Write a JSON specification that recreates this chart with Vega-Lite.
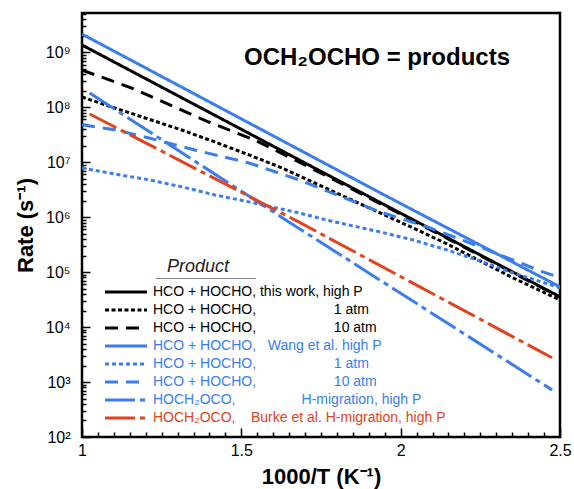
{
  "$schema": "https://vega.github.io/schema/vega-lite/v6.json",
  "width": 478,
  "height": 424,
  "autosize": "none",
  "padding": {"left": 82, "top": 13, "right": 14, "bottom": 52},
  "background": "white",
  "config": {
    "view": {"stroke": "black", "strokeWidth": 2.5},
    "font": "Liberation Sans"
  },
  "title": {
    "text": "OCH₂OCHO = products",
    "orient": "top",
    "anchor": "end",
    "frame": "group",
    "offset": 0,
    "dx": -50,
    "dy": 76,
    "baseline": "alphabetic",
    "font": "Liberation Sans",
    "fontSize": 24,
    "fontWeight": "bold",
    "color": "black"
  },
  "data": {
    "values": [
      {"s": "a", "x": 1.0, "y": 1.36e9},
      {"s": "a", "x": 1.75, "y": 6.8e6},
      {"s": "a", "x": 2.5, "y": 3.56e4},
      {"s": "b", "x": 1.0, "y": 1.54e8},
      {"s": "b", "x": 1.103, "y": 9.7e7},
      {"s": "b", "x": 1.209, "y": 6.1e7},
      {"s": "b", "x": 1.313, "y": 3.86e7},
      {"s": "b", "x": 1.417, "y": 2.34e7},
      {"s": "b", "x": 1.524, "y": 1.36e7},
      {"s": "b", "x": 1.627, "y": 7.9e6},
      {"s": "b", "x": 1.778, "y": 3.13e6},
      {"s": "b", "x": 1.935, "y": 1.2e6},
      {"s": "b", "x": 2.038, "y": 6.4e5},
      {"s": "b", "x": 2.145, "y": 3.27e5},
      {"s": "b", "x": 2.249, "y": 1.6e5},
      {"s": "b", "x": 2.352, "y": 7.9e4},
      {"s": "b", "x": 2.5, "y": 3.13e4},
      {"s": "c", "x": 1.0, "y": 4.76e8},
      {"s": "c", "x": 1.156, "y": 2.24e8},
      {"s": "c", "x": 1.398, "y": 5.4e7},
      {"s": "c", "x": 1.542, "y": 2.54e7},
      {"s": "c", "x": 1.668, "y": 1.1e7},
      {"s": "c", "x": 1.841, "y": 3.4e6},
      {"s": "c", "x": 2.155, "y": 3.86e5},
      {"s": "c", "x": 2.5, "y": 3.5e4},
      {"s": "d", "x": 1.0, "y": 2.15e9},
      {"s": "d", "x": 1.936, "y": 2.77e6},
      {"s": "d", "x": 2.5, "y": 5.4e4},
      {"s": "e", "x": 1.0, "y": 7.9e6},
      {"s": "e", "x": 1.103, "y": 6.1e6},
      {"s": "e", "x": 1.21, "y": 4.8e6},
      {"s": "e", "x": 1.314, "y": 3.56e6},
      {"s": "e", "x": 1.417, "y": 2.54e6},
      {"s": "e", "x": 1.524, "y": 1.9e6},
      {"s": "e", "x": 1.68, "y": 1.2e6},
      {"s": "e", "x": 1.778, "y": 8.6e5},
      {"s": "e", "x": 1.935, "y": 5.4e5},
      {"s": "e", "x": 2.038, "y": 3.86e5},
      {"s": "e", "x": 2.145, "y": 2.54e5},
      {"s": "e", "x": 2.249, "y": 1.6e5},
      {"s": "e", "x": 2.352, "y": 9.7e4},
      {"s": "e", "x": 2.5, "y": 5.2e4},
      {"s": "f", "x": 1.0, "y": 4.8e7},
      {"s": "f", "x": 1.103, "y": 3.9e7},
      {"s": "f", "x": 1.21, "y": 2.77e7},
      {"s": "f", "x": 1.354, "y": 1.67e7},
      {"s": "f", "x": 1.524, "y": 9.7e6},
      {"s": "f", "x": 1.68, "y": 4.8e6},
      {"s": "f", "x": 1.935, "y": 1.25e6},
      {"s": "f", "x": 2.082, "y": 6.7e5},
      {"s": "f", "x": 2.208, "y": 3.56e5},
      {"s": "f", "x": 2.311, "y": 2.07e5},
      {"s": "f", "x": 2.446, "y": 1.01e5},
      {"s": "f", "x": 2.5, "y": 8e4},
      {"s": "g", "x": 1.024, "y": 1.82e8},
      {"s": "g", "x": 1.649, "y": 8.2e5},
      {"s": "g", "x": 2.475, "y": 720},
      {"s": "h", "x": 1.024, "y": 7.55e7},
      {"s": "h", "x": 1.68, "y": 8.2e5},
      {"s": "h", "x": 2.475, "y": 2770}
    ]
  },
  "resolve": {"axis": {"x": "independent", "y": "independent"}},
  "layer": [
    {
      "mark": {"type": "line", "opacity": 0},
      "encoding": {
        "x": {
          "field": "x", "type": "quantitative",
          "scale": {"domain": [1, 2.5], "nice": false, "zero": false},
          "axis": {
            "orient": "bottom",
            "values": [1.05, 1.1, 1.15, 1.2, 1.25, 1.3, 1.35, 1.4, 1.45, 1.55, 1.6, 1.65, 1.7, 1.75, 1.8, 1.85, 1.9, 1.95, 2.05, 2.1, 2.15, 2.2, 2.25, 2.3, 2.35, 2.4, 2.45],
            "labels": false, "domain": false, "grid": false, "title": null,
            "tickSize": -5, "tickWidth": 1.5, "tickColor": "black"
          }
        },
        "y": {
          "field": "y", "type": "quantitative",
          "scale": {"type": "log", "domain": [100, 5.2e9], "nice": false},
          "axis": {
            "orient": "left",
            "values": [200, 300, 400, 500, 600, 700, 800, 900, 2000, 3000, 4000, 5000, 6000, 7000, 8000, 9000, 20000, 30000, 40000, 50000, 60000, 70000, 80000, 90000, 200000, 300000, 400000, 500000, 600000, 700000, 800000, 900000, 2000000, 3000000, 4000000, 5000000, 6000000, 7000000, 8000000, 9000000, 20000000, 30000000, 40000000, 50000000, 60000000, 70000000, 80000000, 90000000, 200000000, 300000000, 400000000, 500000000, 600000000, 700000000, 800000000, 900000000, 2000000000, 3000000000, 4000000000, 5000000000],
            "labels": false, "domain": false, "grid": false, "title": null,
            "tickSize": -4, "tickWidth": 1.5, "tickColor": "black"
          }
        },
        "detail": {"field": "s"}
      }
    },
    {
      "mark": {"type": "line", "strokeWidth": 3, "clip": true},
      "encoding": {
        "x": {
          "field": "x", "type": "quantitative",
          "axis": {
            "orient": "bottom",
            "values": [1, 1.5, 2, 2.5],
            "labelExpr": "datum.value == 1 ? '1' : datum.value == 2 ? '2' : format(datum.value, '.1f')",
            "labelFontSize": 16, "labelFont": "Liberation Sans", "labelColor": "black",
            "labelPadding": 14, "labelFlush": false,
            "domain": false, "grid": false,
            "tickSize": -9, "tickWidth": 1.5, "tickColor": "black",
            "title": "1000/T (K⁻¹)",
            "titleFontSize": 22, "titleFont": "Liberation Sans", "titleFontWeight": "bold", "titleColor": "black",
            "titlePadding": 8
          }
        },
        "y": {
          "field": "y", "type": "quantitative",
          "axis": {
            "orient": "left",
            "values": [100, 1000, 10000, 100000, 1000000, 10000000, 100000000, 1000000000],
            "labelExpr": "'10' + ['⁰','¹','²','³','⁴','⁵','⁶','⁷','⁸','⁹'][round(log(datum.value)/LN10)]",
            "labelFontSize": 16, "labelFont": "Liberation Sans", "labelColor": "black",
            "labelPadding": 20, "labelFlush": false,
            "domain": false, "grid": false,
            "tickSize": -8, "tickWidth": 1.5, "tickColor": "black",
            "title": "Rate (s⁻¹)",
            "titleFontSize": 22, "titleFont": "Liberation Sans", "titleFontWeight": "bold", "titleColor": "black",
            "titlePadding": 8
          }
        },
        "color": {
          "field": "s", "type": "nominal",
          "scale": {"domain": ["a", "b", "c", "d", "e", "f", "g", "h"], "range": ["#000000", "#000000", "#000000", "#3a7df0", "#3a7df0", "#3a7df0", "#3a7df0", "#e2431c"]},
          "legend": {
            "orient": "none", "legendX": 37, "legendY": 245,
            "title": ["\u200b\u00a0\u00a0Product", "__________"],
            "titleFont": "Liberation Sans", "titleFontSize": 18, "titleFontStyle": "italic", "titleFontWeight": "normal", "titleColor": "#222222",
            "titleLineHeight": 5, "titlePadding": 4,
            "labelFont": "Liberation Sans", "labelFontSize": 14, "labelLimit": 500, "labelOffset": 20,
            "labelExpr": "{'a': 'HCO + HOCHO, this work, high P', 'b': 'HCO + HOCHO,\u00a0\u00a0\u00a0\u00a0\u00a0\u00a0\u00a0\u00a0\u00a0\u00a0\u00a0\u00a0\u00a0\u00a0\u00a0\u00a0\u00a0\u00a0\u00a0\u00a01 atm', 'c': 'HCO + HOCHO,\u00a0\u00a0\u00a0\u00a0\u00a0\u00a0\u00a0\u00a0\u00a0\u00a0\u00a0\u00a0\u00a0\u00a0\u00a0\u00a0\u00a0\u00a0\u00a0\u00a010 atm', 'd': 'HCO + HOCHO,\u00a0\u00a0\u00a0Wang et al. high P', 'e': 'HCO + HOCHO,\u00a0\u00a0\u00a0\u00a0\u00a0\u00a0\u00a0\u00a0\u00a0\u00a0\u00a0\u00a0\u00a0\u00a0\u00a0\u00a0\u00a0\u00a0\u00a0\u00a01 atm', 'f': 'HCO + HOCHO,\u00a0\u00a0\u00a0\u00a0\u00a0\u00a0\u00a0\u00a0\u00a0\u00a0\u00a0\u00a0\u00a0\u00a0\u00a0\u00a0\u00a0\u00a0\u00a0\u00a010 atm', 'g': 'HOCH₂OCO,\u00a0\u00a0\u00a0\u00a0\u00a0\u00a0\u00a0\u00a0\u00a0\u00a0\u00a0\u00a0\u00a0\u00a0\u00a0\u00a0\u00a0H-migration, high P', 'h': 'HOCH₂OCO,\u00a0\u00a0\u00a0\u00a0Burke et al. H-migration, high P'}[datum.value]",
            "symbolType": "M-4.2,0H4.2", "symbolSize": 100, "symbolStrokeWidth": 3,
            "rowPadding": 4, "padding": 0, "offset": 0,
            "encode": {
              "labels": {"update": {"fill": {"scale": "color", "field": "value"}}},
              "title": {"update": {"dx": {"value": 38}}}
            }
          }
        },
        "strokeDash": {
          "field": "s", "type": "nominal",
          "scale": {"domain": ["a", "b", "c", "d", "e", "f", "g", "h"], "range": [[1, 0], [4, 2.5], [13, 8], [1, 0], [4, 3], [13, 8], [30, 5, 5, 5], [30, 5, 5, 5]]},
          "legend": {
            "orient": "none", "legendX": 37, "legendY": 245,
            "title": ["\u200b\u00a0\u00a0Product", "__________"],
            "titleFont": "Liberation Sans", "titleFontSize": 18, "titleFontStyle": "italic", "titleFontWeight": "normal", "titleColor": "#222222",
            "titleLineHeight": 5, "titlePadding": 4,
            "labelFont": "Liberation Sans", "labelFontSize": 14, "labelLimit": 500, "labelOffset": 20,
            "labelExpr": "{'a': 'HCO + HOCHO, this work, high P', 'b': 'HCO + HOCHO,\u00a0\u00a0\u00a0\u00a0\u00a0\u00a0\u00a0\u00a0\u00a0\u00a0\u00a0\u00a0\u00a0\u00a0\u00a0\u00a0\u00a0\u00a0\u00a0\u00a01 atm', 'c': 'HCO + HOCHO,\u00a0\u00a0\u00a0\u00a0\u00a0\u00a0\u00a0\u00a0\u00a0\u00a0\u00a0\u00a0\u00a0\u00a0\u00a0\u00a0\u00a0\u00a0\u00a0\u00a010 atm', 'd': 'HCO + HOCHO,\u00a0\u00a0\u00a0Wang et al. high P', 'e': 'HCO + HOCHO,\u00a0\u00a0\u00a0\u00a0\u00a0\u00a0\u00a0\u00a0\u00a0\u00a0\u00a0\u00a0\u00a0\u00a0\u00a0\u00a0\u00a0\u00a0\u00a0\u00a01 atm', 'f': 'HCO + HOCHO,\u00a0\u00a0\u00a0\u00a0\u00a0\u00a0\u00a0\u00a0\u00a0\u00a0\u00a0\u00a0\u00a0\u00a0\u00a0\u00a0\u00a0\u00a0\u00a0\u00a010 atm', 'g': 'HOCH₂OCO,\u00a0\u00a0\u00a0\u00a0\u00a0\u00a0\u00a0\u00a0\u00a0\u00a0\u00a0\u00a0\u00a0\u00a0\u00a0\u00a0\u00a0H-migration, high P', 'h': 'HOCH₂OCO,\u00a0\u00a0\u00a0\u00a0Burke et al. H-migration, high P'}[datum.value]",
            "symbolType": "M-4.2,0H4.2", "symbolSize": 100, "symbolStrokeWidth": 3,
            "rowPadding": 4, "padding": 0, "offset": 0,
            "encode": {
              "labels": {"update": {"fill": {"scale": "color", "field": "value"}}},
              "title": {"update": {"dx": {"value": 38}}}
            }
          }
        }
      }
    }
  ]
}
